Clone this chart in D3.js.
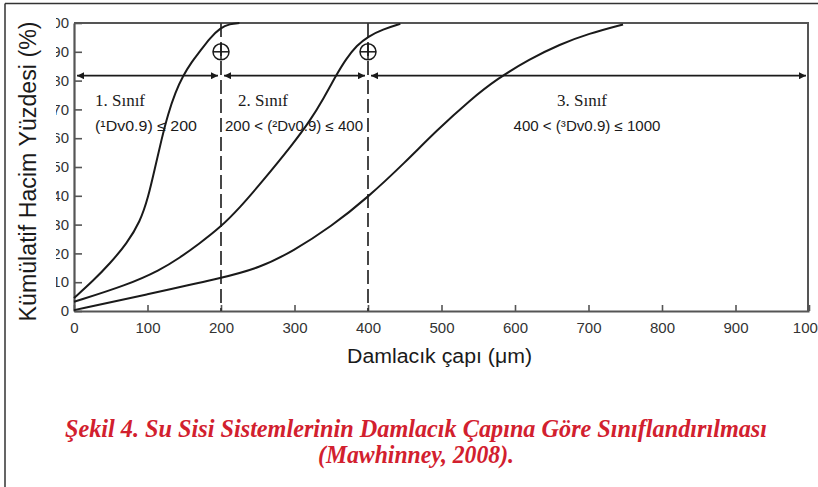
<!DOCTYPE html>
<html><head><meta charset="utf-8">
<script src="https://cdn.jsdelivr.net/npm/d3@7"></script>
<style>body{margin:0;background:#fff}svg{display:block}</style>
</head><body>
<script>
// ---- data ----
const xTicks = [0,100,200,300,400,500,600,700,800,900,1000];
const yTicks = [0,10,20,30,40,50,60,70,80,90,100];
const class1X = [0, 26, 49, 72, 90, 101, 110, 119, 128, 138, 148, 160, 171, 185, 199, 212, 225];
const class1Y = [4.5, 10.5, 16.5, 23.5, 31, 39.5, 49.5, 59.5, 68.5, 76, 81.5, 86.5, 90, 94.8, 98.3, 99.7, 100];
const class2X = [0, 72, 117, 144, 170, 199, 226, 253, 298, 321, 340, 357, 370, 385, 400, 420, 444];
const class2Y = [3.2, 9, 14.2, 18.5, 23.3, 29, 36, 44, 58, 66, 74, 82, 87.5, 92.3, 95.3, 97.8, 99.7];
const class3X = [0, 100, 199, 253, 298, 350, 400, 450, 493, 540, 575, 620, 661, 700, 747];
const class3Y = [0.3, 5.8, 11.3, 15.0, 20.8, 29.3, 39.5, 51.5, 62.6, 73.5, 80.5, 87.5, 92.6, 96.3, 99.5];
const limits = [200, 400];
const arrowLevel = 81.7;
const markerLevel = 90;
const classRanges = [[0,200],[200,400],[400,1000]];
const classNames = ["1. Sınıf","2. Sınıf","3. Sınıf"];
const classRules = [["(","¹","Dv0.9) ≤ 200"],["200 < (","²","Dv0.9) ≤ 400"],["400 < (","³","Dv0.9) ≤ 1000"]];
const yTitle = "Kümülatif Hacim Yüzdesi (%)";
const xTitle = "Damlacık çapı (μm)";
const caption = ["Şekil 4. Su Sisi Sistemlerinin Damlacık Çapına Göre Sınıflandırılması","(Mawhinney, 2008)."];

// ---- drawing ----
const W = 818, H = 487;
const svg = d3.select("body").append("svg").attr("width", W).attr("height", H);
const x = d3.scaleLinear().domain([0,1000]).range([74,809]);
const y = d3.scaleLinear().domain([0,100]).range([311,23]);
const ink = "#1a1a1a", axisCol = "#555";
const sans = "Liberation Sans, Arial, sans-serif";

// outer page border (top + left)
svg.append("path").attr("d",`M5,3.5H${W}M5,3.5V${H}`).attr("fill","none").attr("stroke","#333").attr("stroke-width",1.5);

// defs
const defs = svg.append("defs");
defs.append("clipPath").attr("id","ylabclip").append("rect").attr("x",56).attr("y",0).attr("width",40).attr("height",H);
defs.append("marker").attr("id","ah").attr("viewBox","0 0 10 10").attr("refX",10).attr("refY",5)
  .attr("markerWidth",10).attr("markerHeight",7).attr("markerUnits","userSpaceOnUse").attr("orient","auto-start-reverse")
  .append("path").attr("d","M0,0L10,5L0,10z").attr("fill",ink);

// frame top & right
svg.append("path").attr("d",`M${x(0)},${y(100)}H${x(1000)-1}V${y(0)}`).attr("fill","none").attr("stroke",axisCol).attr("stroke-width",2);

// axes
const xAxis = d3.axisBottom(x).tickValues(xTicks).tickFormat(d3.format("d")).tickSizeInner(-6).tickSizeOuter(0).tickPadding(11);
const gx = svg.append("g").attr("transform",`translate(0,${y(0)})`).call(xAxis);
gx.select(".domain").attr("stroke",axisCol).attr("stroke-width",2.2);
gx.selectAll(".tick line").attr("stroke",axisCol).attr("stroke-width",1.6);
gx.selectAll(".tick text").attr("font-family",sans).attr("font-size",15).attr("fill","#333");

const yAxis = d3.axisLeft(y).tickValues(yTicks).tickSizeInner(-8).tickSizeOuter(0).tickFormat(()=>"");
const gy = svg.append("g").attr("transform",`translate(${x(0)},0)`).call(yAxis);
gy.select(".domain").attr("stroke",axisCol).attr("stroke-width",2.2);
gy.selectAll(".tick line").attr("stroke",axisCol).attr("stroke-width",1.6);
gy.selectAll(".tick text").remove();
const labelsG = svg.append("g").attr("clip-path","url(#ylabclip)");
labelsG.selectAll("text").data(yTicks).join("text")
  .attr("x", x(0)-5).attr("y", d=>y(d)).attr("dy","0.35em").attr("text-anchor","end")
  .attr("font-family",sans).attr("font-size",15).attr("fill","#333").text(d=>d);

// dashed limit lines
svg.selectAll(".lim").data(limits).join("line").attr("class","lim")
  .attr("x1",d=>x(d)).attr("x2",d=>x(d)).attr("y1",y(100)).attr("y2",y(0))
  .attr("stroke","#333").attr("stroke-width",1.8).attr("stroke-dasharray","14,5");

// curves
const line = d3.line().x(d=>x(d[0])).y(d=>y(d[1])).curve(d3.curveBasis);
[[class1X,class1Y],[class2X,class2Y],[class3X,class3Y]].forEach(([xs,ys])=>{
  svg.append("path").datum(xs.map((v,i)=>[v,ys[i]])).attr("d",line)
    .attr("fill","none").attr("stroke",ink).attr("stroke-width",2);
});

// double arrows
svg.selectAll(".arr").data(classRanges).join("line").attr("class","arr")
  .attr("x1",d=>x(d[0])+3).attr("x2",d=>x(d[1])-3).attr("y1",y(arrowLevel)).attr("y2",y(arrowLevel))
  .attr("stroke",ink).attr("stroke-width",1.8)
  .attr("marker-start","url(#ah)").attr("marker-end","url(#ah)");

// circle-cross markers
limits.forEach(v=>{
  const cx=x(v), cy=y(markerLevel), r=8;
  const g=svg.append("g").attr("stroke",ink).attr("stroke-width",1.5).attr("fill","none");
  g.append("circle").attr("cx",cx).attr("cy",cy).attr("r",r);
  g.append("line").attr("x1",cx-r).attr("x2",cx+r).attr("y1",cy).attr("y2",cy);
  g.append("line").attr("x1",cx).attr("x2",cx).attr("y1",cy-r).attr("y2",cy+r);
});

// class labels
const nameX = [120, 263, 582];
const ruleX = [146, 294, 587];
const ruleLen = [102, 138, 147];
classNames.forEach((n,i)=>{
  svg.append("text").attr("x",nameX[i]).attr("y",106).attr("text-anchor","middle")
    .attr("font-family","Liberation Serif, Times New Roman, serif").attr("font-size",17).attr("fill",ink).text(n);
  const t = svg.append("text").attr("x",ruleX[i]).attr("y",131).attr("text-anchor","middle")
    .attr("font-family",sans).attr("font-size",14).attr("fill",ink)
    .attr("textLength",ruleLen[i]).attr("lengthAdjust","spacingAndGlyphs");
  t.append("tspan").text(classRules[i][0]);
  t.append("tspan").text(classRules[i][1]);
  t.append("tspan").text(classRules[i][2]);
});

// axis titles
svg.append("text").attr("transform",`translate(36,${(18+325)/2}) rotate(-90)`).attr("text-anchor","middle")
  .attr("font-family",sans).attr("font-size",23).attr("fill",ink)
  .attr("textLength",300).attr("lengthAdjust","spacingAndGlyphs").text(yTitle);
svg.append("text").attr("x",(347+532)/2).attr("y",363).attr("text-anchor","middle")
  .attr("font-family",sans).attr("font-size",20).attr("fill",ink)
  .attr("textLength",185).attr("lengthAdjust","spacingAndGlyphs").text(xTitle);

// caption
const capLen=[702,196], capY=[437,463];
caption.forEach((c,i)=>{
  svg.append("text").attr("x",416).attr("y",capY[i]).attr("text-anchor","middle")
    .attr("font-family","Liberation Serif, Times New Roman, serif").attr("font-weight","bold").attr("font-style","italic")
    .attr("font-size",25).attr("fill","#d2202e")
    .attr("textLength",capLen[i]).attr("lengthAdjust","spacingAndGlyphs").text(c);
});
</script>
</body></html>
